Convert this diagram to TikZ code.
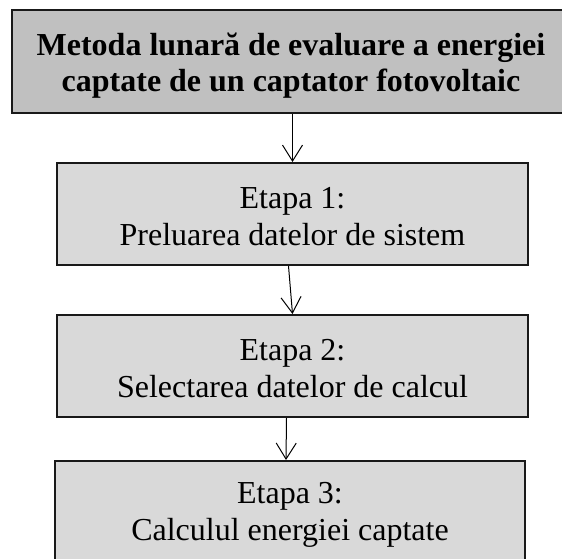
\documentclass[tikz,border=0pt]{standalone}
\usepackage{fontspec}
\setmainfont{Liberation Serif}
\usetikzlibrary{arrows.meta}
\definecolor{titlegray}{RGB}{192,192,192}
\definecolor{stepgray}{RGB}{217,217,217}
\begin{document}
\begin{tikzpicture}[x=1pt,y=-1pt,
  boxbase/.style={draw=black!90, line width=2pt, inner sep=0pt},
  titlebox/.style={boxbase, fill=titlegray, minimum width=560pt, minimum height=103pt},
  stepbox/.style={boxbase, fill=stepgray, minimum width=471pt, minimum height=102pt},
  steptext/.style={align=center, inner sep=0pt, font=\fontsize{32}{37}\selectfont},
  titletext/.style={align=center, inner sep=0pt, font=\bfseries\fontsize{32}{36}\selectfont},
  conn/.style={-{Straight Barb[length=16pt,width=20pt,line width=1pt]}, line width=1pt}
]
\useasboundingbox (0,0) rectangle (562,559);
\clip (0,0) rectangle (562,559);
\node[titlebox, anchor=north west] (title) at (11,9) {};
\node[titletext] (titlelabel) at (291,66) {Metoda lunară de evaluare a energiei\\captate de un captator fotovoltaic};
\node[stepbox] (s1) at (292.5,214) {};
\node[stepbox] (s2) at (292.5,366) {};
\node[stepbox, minimum width=470pt] (s3) at (290,512) {};
\node[steptext] (s1label) at ([yshift=-3pt]s1.center) {Etapa 1:\\Preluarea datelor de sistem};
\node[steptext] (s2label) at ([yshift=-3pt]s2.center) {Etapa 2:\\Selectarea datelor de calcul};
\node[steptext] (s3label) at ([yshift=-3pt]s3.center) {Etapa 3:\\Calculul energiei captate};
\draw[conn] (s1.north |- title.south) -- (s1.north);
\draw[conn] ([xshift=-4pt]s1.south) -- (s2.north);
\draw[conn] ([xshift=-6pt]s2.south) -- ([xshift=-4pt]s3.north);
\end{tikzpicture}
\end{document}
